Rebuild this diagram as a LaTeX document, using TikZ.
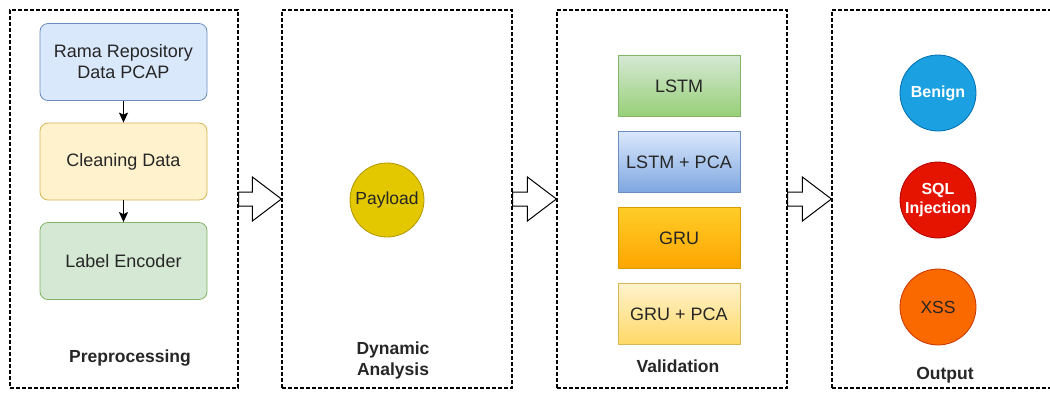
\documentclass[tikz,border=0pt]{standalone}
\usepackage{fontspec}
\setmainfont{Liberation Sans}
\usetikzlibrary{calc,arrows.meta}
\definecolor{preblue}{HTML}{DAE8FC}
\definecolor{preblueline}{HTML}{6C8EBF}
\definecolor{preyellow}{HTML}{FFF2CC}
\definecolor{preyellowline}{HTML}{D6B656}
\definecolor{pregreen}{HTML}{D5E8D4}
\definecolor{pregreenline}{HTML}{82B366}
\definecolor{payloadfill}{HTML}{E3C800}
\definecolor{payloadline}{HTML}{B09500}
\definecolor{greenlow}{HTML}{97D077}
\definecolor{bluelow}{HTML}{7EA6E0}
\definecolor{orangetop}{HTML}{FFCD28}
\definecolor{orangelow}{HTML}{FFA500}
\definecolor{orangeline}{HTML}{D79B00}
\definecolor{yellowlow}{HTML}{FFD966}
\definecolor{benignfill}{HTML}{1BA1E2}
\definecolor{benignline}{HTML}{006EAF}
\definecolor{sqlfill}{HTML}{E51400}
\definecolor{sqlline}{HTML}{B20000}
\definecolor{xssfill}{HTML}{FA6800}
\definecolor{xssline}{HTML}{C73500}
\begin{document}
\begin{tikzpicture}[x=1pt, y=-1pt,
    panel/.style={draw, dash pattern=on 4pt off 2pt, line width=1.2pt,
        minimum width=230, minimum height=378},
    prebox/.style={draw, rounded corners=8pt, line width=0.8pt, minimum width=167,
        minimum height=77, align=center, text=black!85, font=\fontsize{18}{21}\selectfont},
    modelbox/.style={draw, line width=0.8pt, minimum width=122, minimum height=61,
        text=black!85, font=\fontsize{18}{21}\selectfont},
    classnode/.style={circle, draw, line width=0.8pt, inner sep=0pt, minimum size=76,
        align=center, font=\fontsize{16}{19}\selectfont\bfseries},
    stagelabel/.style={align=center, font=\fontsize{17.5}{21}\selectfont\bfseries, text=black!85},
    hollow/.style={draw, fill=white, line width=1pt, line join=miter}
  ]
    \useasboundingbox (0,0) rectangle (1050,392);
    % Stage frames
    \node[panel, minimum width=228] (pre) at (124,199) {};
    \node[panel] (dyn) at (397,199) {};
    \node[panel] (val) at (672,199) {};
    \node[panel] (out) at (947,199) {};
    % Preprocessing
    \node[prebox, fill=preblue, draw=preblueline] (rama) at (123.5,62) {Rama Repository\\Data PCAP};
    \node[prebox, fill=preyellow, draw=preyellowline] (clean) at (123.5,161.5) {Cleaning Data};
    \node[prebox, fill=pregreen, draw=pregreenline] (encoder) at (123.5,261) {Label Encoder};
    \draw[-{Stealth[length=10pt, width=9pt, inset=2pt]}, line width=1.3pt] (rama) -- (clean);
    \draw[-{Stealth[length=10pt, width=9pt, inset=2pt]}, line width=1.3pt] (clean) -- (encoder);
    \node[stagelabel] (prelbl) at (130,358) {Preprocessing};
    % Dynamic analysis
    \node[circle, draw=payloadline, fill=payloadfill, line width=0.8pt, inner sep=0pt,
        minimum size=74, text=black!85, font=\fontsize{17.5}{21}\selectfont] (payload) at (387,200) {Payload};
    \node[stagelabel] (dynlbl) at (393,360) {Dynamic\\Analysis};
    % Validation models
    \node[modelbox, top color=pregreen, bottom color=greenlow, draw=pregreenline] (lstm) at (679,86) {LSTM};
    \node[modelbox, top color=preblue, bottom color=bluelow, draw=preblueline] (lstmpca) at (679,162) {LSTM + PCA};
    \node[modelbox, top color=orangetop, bottom color=orangelow, draw=orangeline] (gru) at (679,238) {GRU};
    \node[modelbox, top color=preyellow, bottom color=yellowlow, draw=preyellowline] (grupca) at (679,314) {GRU + PCA};
    \node[stagelabel] (vallbl) at (678,366) {Validation};
    % Output classes
    \node[classnode, fill=benignfill, draw=benignline, text=white] (benign) at (938,93) {Benign};
    \node[classnode, fill=sqlfill, draw=sqlline, text=white] (sql) at (938,200) {SQL\\Injection};
    \node[classnode, fill=xssfill, draw=xssline, text=black!85, font=\fontsize{17.5}{21}\selectfont] (xss) at (938,307) {XSS};
    \node[stagelabel] (outlbl) at (945,375) {Output};
    % Hollow arrows between stages
    \draw[hollow] ($(pre.east)+(0,-7)$) -- ($(dyn.west)+(-29,-7)$) -- ($(dyn.west)+(-29,-22)$)
        -- (dyn.west) -- ($(dyn.west)+(-29,22)$) -- ($(dyn.west)+(-29,7)$) -- ($(pre.east)+(0,7)$) -- cycle;
    \draw[hollow] ($(dyn.east)+(0,-7)$) -- ($(val.west)+(-29,-7)$) -- ($(val.west)+(-29,-22)$)
        -- (val.west) -- ($(val.west)+(-29,22)$) -- ($(val.west)+(-29,7)$) -- ($(dyn.east)+(0,7)$) -- cycle;
    \draw[hollow] ($(val.east)+(0,-7)$) -- ($(out.west)+(-29,-7)$) -- ($(out.west)+(-29,-22)$)
        -- (out.west) -- ($(out.west)+(-29,22)$) -- ($(out.west)+(-29,7)$) -- ($(val.east)+(0,7)$) -- cycle;
\end{tikzpicture}
\end{document}
